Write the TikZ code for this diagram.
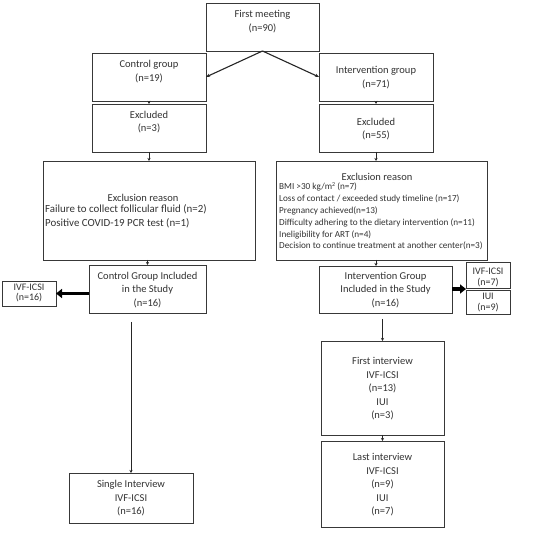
\documentclass[tikz,border=0pt]{standalone}
\usepackage{fontspec}
\setmainfont{Carlito}
\usetikzlibrary{arrows.meta,calc}
\begin{document}
\begin{tikzpicture}[x=1pt,y=-1pt,
  box/.style={draw=black!78,line width=0.8pt,inner sep=0pt,outer sep=0pt,fill=white},
  txt/.style={align=center,inner sep=0pt,text=black!80,font=\fontsize{10.5}{13.5}\selectfont},
  lst/.style={align=left,inner sep=0pt,text=black!80,anchor=west},
  thin/.style={-{Stealth[length=3pt,width=3pt]},line width=0.7pt,black!85},
  diag/.style={-{Stealth[length=4pt,width=3.5pt]},line width=1.1pt,black!85},
  thick/.style={-{Triangle[length=6pt,width=9pt]},line width=3.5pt,black}]
\useasboundingbox (0,0) rectangle (550,534);
\fill[white] (0,0) rectangle (550,534);
% boxes
\node[box,minimum width=113pt,minimum height=48pt] (fm) at (262.5,27) {};
\node[box,minimum width=114pt,minimum height=48pt] (cg) at (149,77) {};
\node[box,minimum width=114pt,minimum height=48pt] (ig) at (376,77) {};
\node[box,minimum width=114pt,minimum height=48pt] (exl) at (149,128) {};
\node[box,minimum width=114pt,minimum height=48pt] (exr) at (376,128) {};
\node[box,minimum width=212pt,minimum height=99pt] (rl) at (149,210.5) {};
\node[box,minimum width=211pt,minimum height=99pt] (rr) at (381.5,210.5) {};
\node[box,minimum width=117pt,minimum height=48pt] (cgi) at (147.5,289) {};
\node[box,minimum width=54pt,minimum height=25pt] (ivl) at (29,293.5) {};
\node[box,minimum width=133pt,minimum height=47pt] (igi) at (385.5,289.5) {};
\node[box,minimum width=44pt,minimum height=26pt] (ivr) at (488,275) {};
\node[box,minimum width=44pt,minimum height=24pt] (iui) at (488,302) {};
\node[box,minimum width=123pt,minimum height=94pt] (fi) at (382.5,388) {};
\node[box,minimum width=123pt,minimum height=86pt] (li) at (382.5,484) {};
\node[box,minimum width=124pt,minimum height=50pt] (si) at (131,498) {};
% texts
\node[txt] (fmt) at (262.5,21.5) {First meeting\\(n=90)};
\node[txt] (cgt) at (149,71.5) {Control group\\(n=19)};
\node[txt] (igt) at (376,77.5) {Intervention group\\(n=71)};
\node[txt] (exlt) at (149,122) {Excluded\\(n=3)};
\node[txt] (exrt) at (376,129) {Excluded\\(n=55)};
\node[txt] (rlt) at (143,197.5) {Exclusion reason};
\node[lst,font=\fontsize{10.9}{14}\selectfont] (rll) at (45,216) {Failure to collect follicular fluid (n=2)\\Positive COVID-19 PCR test (n=1)};
\node[txt] (rrt) at (377,176.5) {Exclusion reason};
\node[lst,font=\fontsize{9.2}{11.8}\selectfont] (rrl) at (279,216.5) {BMI \textgreater30 kg/m{\fontsize{6}{6}\selectfont\raisebox{3pt}{2}} (n=7)\\Loss of contact / exceeded study timeline (n=17)\\Pregnancy achieved(n=13)\\Difficulty adhering to the dietary intervention (n=11)\\Ineligibility for ART (n=4)\\Decision to continue treatment at another center(n=3)};
\node[txt] (cgit) at (147.5,290) {Control Group Included\\in the Study\\(n=16)};
\node[txt,font=\fontsize{10}{10.5}\selectfont] (ivlt) at (29,293) {IVF-ICSI\\(n=16)};
\node[txt] (igit) at (385.5,290) {Intervention Group\\Included in the Study\\(n=16)};
\node[txt,font=\fontsize{10}{11}\selectfont] (ivrt) at (488,277.5) {IVF-ICSI\\(n=7)};
\node[txt,font=\fontsize{10}{11}\selectfont] (iuit) at (488,302.5) {IUI\\(n=9)};
\node[txt] (fit) at (382.5,389) {First interview\\IVF-ICSI\\(n=13)\\IUI\\(n=3)};
\node[txt] (lit) at (382.5,485) {Last interview\\IVF-ICSI\\(n=9)\\IUI\\(n=7)};
\node[txt] (sit) at (131,498.5) {Single Interview\\IVF-ICSI\\(n=16)};
% connectors
\coordinate (ls) at (131,322);
\coordinate (rs) at (382.5,319);
\coordinate (split) at ($(ivr.south west)!0.5!(iui.north west)$);
\draw[diag] (fm.south) -- (cg.east);
\draw[diag] (fm.south) -- (ig.west);
\draw[thin] (cg.south) -- (exl.north);
\draw[thin] (ig.south) -- (exr.north);
\draw[thin] (exl.south) -- (rl.north);
\draw[thin] (exr.south) -- (exr.south |- rr.north);
\draw[thin] (rl.south -| cgi.north) -- (cgi.north);
\draw[thin] (rr.south -| exr.south) -- (exr.south |- igi.north);
\draw[thick] (cgi.west |- ivl.east) -- (ivl.east);
\draw[thick] (igi.east |- split) -- (split);
\draw[thin] (ls) -- (si.north);
\draw[thin] (rs) -- (fi.north);
\draw[thin] (fi.south) -- (li.north);
\end{tikzpicture}
\end{document}
